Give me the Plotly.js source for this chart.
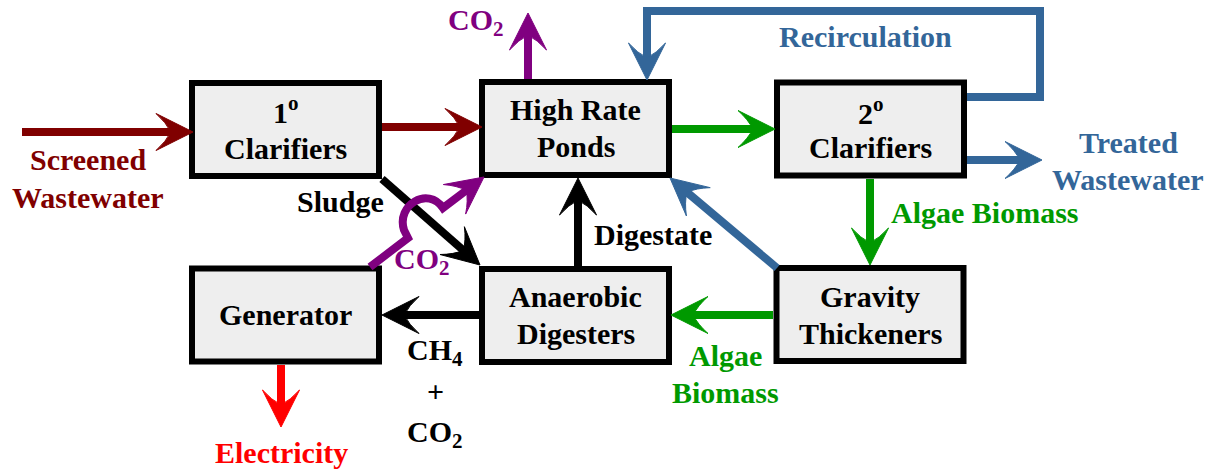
<!DOCTYPE html>
<html>
<head>
<meta charset="utf-8">
<script src="https://cdn.plot.ly/plotly-3.0.1.min.js"></script>
<style>html,body{margin:0;padding:0;background:#fff;}#chart{width:1216px;height:471px;}</style>
</head>
<body>
<div id="chart"></div>
<script>
// ---- content ----
const nodeLabels = [['1<sup>o</sup>','Clarifiers'], ['High Rate','Ponds'], ['2<sup>o</sup>','Clarifiers'],
                    ['Generator'], ['Anaerobic','Digesters'], ['Gravity','Thickeners']];
const flowLabels = [['Screened','Wastewater'], ['CO<sub>2</sub>'], ['Recirculation'], ['Treated','Wastewater'],
                    ['Algae Biomass'], ['Sludge'], ['Digestate'], ['CO<sub>2</sub>'],
                    ['CH<sub>4</sub>','+','CO<sub>2</sub>'], ['Algae','Biomass'], ['Electricity']];
const flowKinds  = ['wastewater', 'co2', 'water', 'water', 'algae', 'solids', 'solids', 'co2',
                    'solids', 'algae', 'power'];

// ---- styles ----
const colors = {wastewater:'#800000', co2:'#800080', water:'#336699', algae:'#009900', solids:'#000000', power:'#ff0000'};
const FONT = 'Liberation Serif, Times New Roman, serif';

// ---- geometry (pixel space) ----
const boxCenters = [[285.5,129.5],[575.5,128.5],[870.5,129],[285.5,315],[575.5,315.5],[870,314.5]];
const boxW = 193, boxH = 99, boxStroke = 6;
const nodeTextY = [[110,148],[109.5,146.5],[110.5,147.5],[314.5],[296.5,333.5],[296.5,333.5]];
const labelX = [88,476,865,1128,985,340,653,422,435,725,281];
const labelY = [[159.5,197.5],[22],[36],[142.5,179.5],[212.5],[201.5],[234.5],[261],[351.5,391.5,433.5],[355.5,392.5],[452]];
const arrowDefs = [
  {kind:'wastewater', pts:[[22,132],[193,132]]},
  {kind:'wastewater', pts:[[382,127],[482,127]]},
  {kind:'algae',      pts:[[672,129],[775,129]]},
  {kind:'co2',        pts:[[528,79],[528,13]]},
  {kind:'water',      pts:[[967,97],[1040,97],[1040,11],[647,11],[647,80]]},
  {kind:'water',      pts:[[967,160],[1042,160]]},
  {kind:'algae',      pts:[[870,179],[870,265]]},
  {kind:'algae',      pts:[[773,315],[671,315]]},
  {kind:'water',      pts:[[777,268],[670,178]]},
  {kind:'solids',     pts:[[578,266],[578,178]]},
  {kind:'solids',     pts:[[382,179],[480,265]]},
  {kind:'solids',     pts:[[480,315],[382,315]]},
  {kind:'power',      pts:[[281,365],[281,427]]}
];
const LW = 8, HL = 37, HW = 18.5;

const shapes = [];
boxCenters.forEach(([cx,cy]) => {
  const h = boxStroke/2;
  shapes.push({type:'rect', xref:'x', yref:'y',
    x0:cx-boxW/2+h, x1:cx+boxW/2-h, y0:cy-boxH/2+h, y1:cy+boxH/2-h,
    fillcolor:'#eeeeee', line:{color:'#000', width:boxStroke}});
});

function head(tip, dx, dy, color) {
  const px = -dy, py = dx;
  const bx = tip[0]-dx*HL, by = tip[1]-dy*HL;
  const n = [tip[0]-dx*HL*0.6, tip[1]-dy*HL*0.6];
  const b1 = [bx+px*HW, by+py*HW], b2 = [bx-px*HW, by-py*HW];
  const q1 = [(b1[0]+n[0])/2 + dx*3, (b1[1]+n[1])/2 + dy*3];
  const q2 = [(b2[0]+n[0])/2 + dx*3, (b2[1]+n[1])/2 + dy*3];
  shapes.push({type:'path', xref:'x', yref:'y',
    path:`M ${tip[0]} ${tip[1]} L ${b1[0]} ${b1[1]} Q ${q1[0]} ${q1[1]} ${n[0]} ${n[1]} Q ${q2[0]} ${q2[1]} ${b2[0]} ${b2[1]} Z`,
    fillcolor:color, line:{color:color, width:1}});
}

function arrow(pts, color) {
  const tip = pts[pts.length-1], prev = pts[pts.length-2];
  let dx = tip[0]-prev[0], dy = tip[1]-prev[1];
  const len = Math.hypot(dx,dy); dx/=len; dy/=len;
  const end = [tip[0]-dx*HL*0.5, tip[1]-dy*HL*0.5];
  let p = `M ${pts[0][0]} ${pts[0][1]}`;
  for (let i=1;i<pts.length-1;i++) p += ` L ${pts[i][0]} ${pts[i][1]}`;
  p += ` L ${end[0]} ${end[1]}`;
  shapes.push({type:'path', xref:'x', yref:'y', path:p, line:{color:color, width:LW}});
  head(tip, dx, dy, color);
}

arrowDefs.forEach(a => arrow(a.pts, colors[a.kind]));

// generator CO2 line hopping over the sludge line
(function(){
  const c = colors.co2;
  const tip = [484,177], from = [443,208];
  let dx = tip[0]-from[0], dy = tip[1]-from[1];
  const len = Math.hypot(dx,dy); dx/=len; dy/=len;
  const end = [tip[0]-dx*HL*0.5, tip[1]-dy*HL*0.5];
  shapes.push({type:'path', xref:'x', yref:'y',
    path:`M 370 267 L 408 238 L 404 230 C 396 205 428 186 443 208 L ${end[0]} ${end[1]}`,
    line:{color:c, width:LW}});
  head(tip, dx, dy, c);
})();

const annotations = [];
function addText(x, y, t, color) {
  annotations.push({x:x, y:y, xref:'x', yref:'y', text:'<b>'+t+'</b>', showarrow:false,
    xanchor:'center', yanchor:'middle', align:'center',
    font:{family:FONT, size:30, color:color}});
}
nodeLabels.forEach((lines,i) => lines.forEach((t,j) => addText(boxCenters[i][0], nodeTextY[i][j], t, '#000')));
flowLabels.forEach((lines,i) => lines.forEach((t,j) => addText(labelX[i], labelY[i][j], t, colors[flowKinds[i]])));

const layout = {
  width:1216, height:471, margin:{l:0,r:0,t:0,b:0},
  paper_bgcolor:'#fff', plot_bgcolor:'#fff',
  font:{family:FONT},
  xaxis:{range:[0,1216], visible:false, fixedrange:true},
  yaxis:{range:[471,0], visible:false, fixedrange:true},
  showlegend:false, shapes:shapes, annotations:annotations
};
Plotly.newPlot('chart', [{x:[], y:[], type:'scatter', hoverinfo:'skip'}], layout, {staticPlot:true, displayModeBar:false});
</script>
</body>
</html>
